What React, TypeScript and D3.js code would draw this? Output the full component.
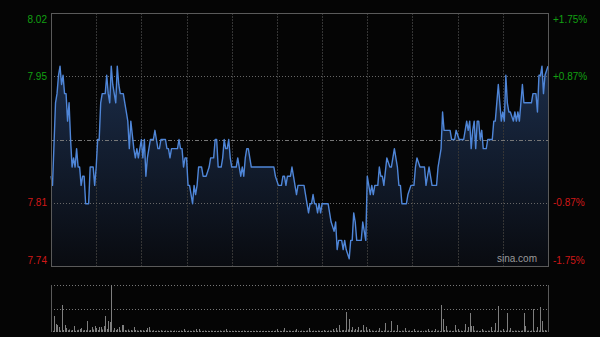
import React from "react";
import * as d3 from "d3";

// ---- data ----
const prevClose = 7.88;
const pctLevels = [0.0175, 0.00875, -0.00875, -0.0175];
const priceTickLabels = ["8.02", "7.95", "7.81", "7.74"];
const pctTickLabels = ["+1.75%", "+0.87%", "-0.87%", "-1.75%"];
const totalMinutes = 330;

// minute index (from 09:30) and price at that minute
const minutes = [
  0, 1, 3, 4, 5, 6, 7, 8, 9, 10, 11, 12, 13, 14, 15, 16, 17, 18, 19, 20, 21, 22, 23, 25, 26, 28, 29, 30, 31, 32,
  33, 34, 36, 37, 38, 39, 40, 41, 42, 43, 44, 45, 46, 48, 49, 50, 51, 52, 53, 55, 56, 57, 58, 59, 60, 61, 62, 63, 64, 65,
  66, 68, 69, 70, 71, 72, 73, 76, 77, 78, 79, 80, 84, 85, 86, 87, 88, 89, 90, 91, 92, 94, 95, 96, 97, 98, 100, 101, 103, 105,
  106, 108, 109, 110, 111, 113, 114, 115, 116, 117, 118, 119, 120, 123, 124, 125, 126, 127, 128, 129, 130, 131, 133, 148, 149, 151, 153, 154, 155, 156,
  157, 159, 160, 161, 162, 163, 164, 168, 169, 171, 172, 173, 174, 175, 176, 177, 178, 179, 180, 184, 186, 188, 189, 190, 191, 193, 194, 195, 196, 198,
  199, 200, 201, 202, 203, 206, 207, 208, 209, 210, 211, 212, 213, 214, 215, 217, 218, 219, 220, 221, 223, 225, 226, 228, 230, 231, 232, 233, 236, 237,
  239, 241, 242, 243, 245, 248, 249, 250, 251, 253, 256, 257, 259, 260, 261, 265, 266, 268, 269, 271, 274, 275, 276, 277, 278, 279, 280, 281, 282, 283,
  284, 285, 286, 287, 289, 290, 293, 294, 295, 297, 298, 299, 300, 301, 302, 303, 304, 305, 307, 308, 309, 310, 311, 312, 313, 314, 319, 320, 322, 323,
  324, 325, 326, 327, 328, 330,
];
const prices = [
  7.84, 7.83, 7.92, 7.93, 7.95, 7.96, 7.94, 7.95, 7.93, 7.93, 7.90, 7.92, 7.88, 7.85, 7.86, 7.85, 7.87, 7.85, 7.85, 7.83, 7.84, 7.84, 7.81, 7.81, 7.85, 7.85, 7.83, 7.85, 7.88, 7.88,
  7.92, 7.93, 7.93, 7.95, 7.93, 7.92, 7.96, 7.94, 7.93, 7.92, 7.96, 7.94, 7.93, 7.93, 7.92, 7.91, 7.90, 7.87, 7.90, 7.87, 7.86, 7.87, 7.86, 7.87, 7.88, 7.86, 7.88, 7.84, 7.86, 7.87,
  7.88, 7.88, 7.89, 7.88, 7.87, 7.87, 7.88, 7.88, 7.87, 7.87, 7.86, 7.87, 7.87, 7.88, 7.87, 7.87, 7.85, 7.86, 7.86, 7.83, 7.83, 7.81, 7.83, 7.82, 7.83, 7.85, 7.85, 7.84, 7.84, 7.85,
  7.86, 7.86, 7.88, 7.88, 7.85, 7.85, 7.86, 7.88, 7.87, 7.87, 7.88, 7.86, 7.85, 7.85, 7.86, 7.85, 7.84, 7.85, 7.84, 7.86, 7.87, 7.87, 7.85, 7.85, 7.84, 7.83, 7.83, 7.84, 7.84, 7.83,
  7.84, 7.84, 7.85, 7.84, 7.83, 7.82, 7.83, 7.83, 7.82, 7.80, 7.81, 7.81, 7.82, 7.81, 7.81, 7.80, 7.81, 7.80, 7.81, 7.81, 7.79, 7.78, 7.79, 7.76, 7.77, 7.77, 7.76, 7.77, 7.76, 7.75,
  7.77, 7.77, 7.80, 7.79, 7.77, 7.77, 7.79, 7.78, 7.77, 7.84, 7.83, 7.82, 7.83, 7.82, 7.83, 7.83, 7.85, 7.84, 7.84, 7.83, 7.86, 7.85, 7.85, 7.87, 7.85, 7.83, 7.83, 7.81, 7.81, 7.82,
  7.83, 7.83, 7.85, 7.86, 7.85, 7.85, 7.83, 7.84, 7.85, 7.83, 7.83, 7.85, 7.87, 7.91, 7.89, 7.89, 7.88, 7.88, 7.89, 7.88, 7.88, 7.89, 7.90, 7.89, 7.90, 7.87, 7.89, 7.90, 7.87, 7.90,
  7.90, 7.88, 7.89, 7.87, 7.87, 7.88, 7.88, 7.90, 7.90, 7.94, 7.92, 7.90, 7.91, 7.90, 7.95, 7.92, 7.91, 7.91, 7.90, 7.91, 7.90, 7.91, 7.90, 7.92, 7.94, 7.92, 7.92, 7.93, 7.93, 7.91,
  7.95, 7.95, 7.96, 7.93, 7.95, 7.96,
];

// per-minute volume (thousand shares)
const volumes = [
  30, 12, 160, 80, 70, 50, 15, 270, 20, 70,
  40, 18, 25, 15, 20, 60, 12, 18, 22, 30,
  40, 15, 20, 18, 110, 15, 20, 50, 25, 60,
  40, 20, 50, 50, 25, 60, 160, 30, 110, 100,
  470, 15, 40, 20, 30, 50, 15, 70, 70, 20,
  15, 25, 12, 20, 15, 50, 20, 15, 12, 20,
  15, 18, 12, 20, 40, 50, 15, 12, 18, 10,
  12, 15, 10, 18, 12, 10, 15, 12, 10, 14,
  12, 10, 15, 12, 10, 12, 15, 10, 30, 12,
  10, 14, 12, 10, 15, 12, 30, 10, 30, 12,
  10, 12, 15, 10, 12, 10, 14, 12, 10, 12,
  10, 12, 15, 10, 12, 14, 30, 10, 12, 10,
  12, 10, 14, 10, 12, 10, 10, 12, 15, 10,
  10, 12, 10, 10, 12, 10, 14, 10, 10, 12,
  10, 12, 10, 10, 12, 10, 10, 12, 10, 14,
  30, 10, 12, 10, 15, 40, 12, 10, 14, 12,
  10, 12, 15, 30, 12, 10, 14, 12, 10, 12,
  15, 40, 12, 10, 14, 12, 10, 15, 12, 10,
  12, 20, 12, 10, 15, 14, 12, 30, 12, 40,
  15, 70, 12, 18, 20, 15, 200, 25, 130, 20,
  50, 15, 30, 18, 50, 15, 20, 70, 15, 50,
  15, 30, 12, 15, 12, 10, 14, 12, 40, 12,
  10, 15, 90, 12, 15, 10, 110, 12, 15, 10,
  70, 12, 10, 14, 12, 40, 10, 12, 15, 10,
  12, 30, 10, 12, 14, 10, 12, 10, 15, 12,
  30, 10, 12, 14, 10, 30, 12, 15, 10, 270,
  130, 20, 60, 15, 12, 14, 10, 12, 70, 15,
  30, 12, 14, 10, 15, 80, 12, 50, 190, 60,
  60, 15, 12, 14, 10, 12, 30, 15, 12, 10,
  14, 12, 50, 10, 15, 90, 12, 260, 15, 12,
  30, 12, 14, 190, 15, 40, 12, 10, 15, 12,
  14, 10, 12, 15, 190, 60, 12, 14, 10, 15,
  230, 12, 14, 50, 15, 250, 110, 15, 20, 14,
  290,
];

export default function App() {
  const W = 600, H = 337;
  const L = 51, R = 548;
  const pTop = 13, pBot = 266;
  const vTop = 285, vBot = 332;

  const x = d3.scaleLinear().domain([0, totalMinutes]).range([L, R]);
  const hi = prevClose * (1 + pctLevels[0]);
  const lo = prevClose * (1 + pctLevels[3]);
  const y = d3.scaleLinear().domain([lo, hi]).range([pBot, pTop]);
  const vy = d3.scaleLinear().domain([0, d3.max(volumes) as number]).range([vBot, vTop]);

  const pts = minutes.map((m, i) => [m, prices[i]] as [number, number]);
  const line = d3.line<[number, number]>().x(d => x(d[0])).y(d => y(d[1]))(pts) || "";
  const area = d3.area<[number, number]>().x(d => x(d[0])).y0(pBot).y1(d => y(d[1]))(pts) || "";

  const vLines = d3.range(1, 11).map(k => Math.round(x(k * 30)) + 0.5);
  const font = "Arial, 'Liberation Sans', sans-serif";

  return (
    <svg width={W} height={H} style={{ position: "absolute", left: 0, top: 0, background: "#050505" }}>
      <defs>
        <linearGradient id="fillG" gradientUnits="userSpaceOnUse" x1="0" y1={60} x2="0" y2={pBot}>
          <stop offset="0" stopColor="#1b2d4a" />
          <stop offset="1" stopColor="#090b10" />
        </linearGradient>
      </defs>
      <rect x={0} y={0} width={W} height={H} fill="#050505" />
      <path d={area} fill="url(#fillG)" />
      {vLines.map((vx, i) => (
        <line key={"vg" + i} x1={vx} x2={vx} y1={pTop} y2={pBot} stroke="#353535" strokeDasharray="2,1" />
      ))}
      {pctLevels.map((p, i) => {
        if (i === 0 || i === 3) return null;
        const yy = Math.round(y(prevClose * (1 + p))) + 0.5;
        return <line key={"hg" + i} x1={L} x2={R} y1={yy} y2={yy} stroke="#666" strokeDasharray="1,2" />;
      })}
      <line x1={L} x2={R} y1={Math.round(y(prevClose)) + 0.5} y2={Math.round(y(prevClose)) + 0.5} stroke="#777" strokeDasharray="4,2,1,2" />
      <path d={line} fill="none" stroke="#4f86d8" strokeWidth={1.4} strokeLinejoin="round" />
      <rect x={L + 0.5} y={pTop + 0.5} width={R - L} height={pBot - pTop} fill="none" stroke="#5a5a5a" />

      {pctLevels.map((p, i) => {
        const yy = y(prevClose * (1 + p));
        const ty = i === 0 ? yy + 6 : i === 3 ? yy - 6 : yy;
        const col = p > 0 ? "#12a012" : "#d01818";
        return (
          <g key={"lab" + i} fontFamily={font} fontSize={10} fill={col} dominantBaseline="central">
            <text x={47} y={ty} textAnchor="end">{priceTickLabels[i]}</text>
            <text x={553} y={ty} textAnchor="start">{pctTickLabels[i]}</text>
          </g>
        );
      })}
      <text x={537} y={262} textAnchor="end" fontFamily={font} fontSize={10} fill="#9a9a9a">sina.com</text>

      {/* volume panel */}
      <line x1={L} x2={R} y1={vTop + 0.5} y2={vTop + 0.5} stroke="#777" strokeDasharray="1,2" />
      <line x1={L} x2={R} y1={Math.round((vTop + vBot) / 2) + 0.5} y2={Math.round((vTop + vBot) / 2) + 0.5} stroke="#777" strokeDasharray="1,2" />
      {volumes.map((v, i) => {
        const vx = Math.round(x(i)) + 0.5;
        return <line key={"vb" + i} x1={vx} x2={vx} y1={vBot} y2={vy(v)} stroke="#7e7e7e" strokeWidth={1} />;
      })}
      <line x1={L + 0.5} x2={L + 0.5} y1={vTop} y2={vBot} stroke="#5a5a5a" />
      <line x1={R + 0.5} x2={R + 0.5} y1={vTop} y2={vBot} stroke="#5a5a5a" />
    </svg>
  );
}
